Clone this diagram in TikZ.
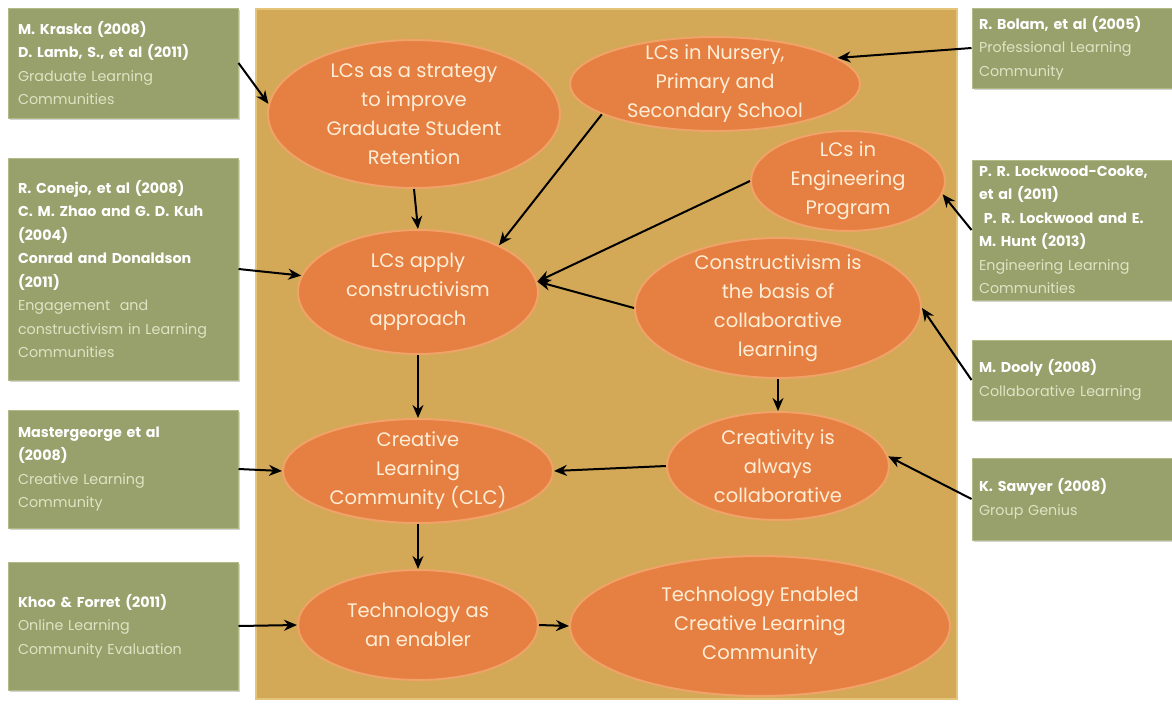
\documentclass[tikz,border=0pt]{standalone}
\usepackage{fontspec}
\setmainfont{Poppins}
\usetikzlibrary{shapes.geometric,arrows.meta,shadows}
\definecolor{panelcol}{RGB}{211,169,88}
\definecolor{panelrim}{RGB}{228,196,120}
\definecolor{boxcol}{RGB}{152,160,108}
\definecolor{boxrim}{RGB}{178,186,135}
\definecolor{ellcol}{RGB}{229,128,66}
\definecolor{ellrim}{RGB}{240,162,104}
\definecolor{elltext}{RGB}{255,238,215}
\definecolor{reftext}{RGB}{222,228,195}
\newcommand{\auth}[1]{{\bfseries\color{white}#1}}
\tikzset{
  ell/.style={ellipse,fill=ellcol,draw=ellrim,line width=2pt,inner sep=-6pt,
    text=elltext,align=center,font=\fontsize{19.5}{29}\selectfont},
  refbox/.style={rectangle,fill=boxcol,draw=boxrim,line width=1pt,
    drop shadow={opacity=0.35,shadow xshift=2pt,shadow yshift=-2pt},
    text=reftext,align=left,inner sep=0pt,font=\fontsize{14.3}{23.5}\selectfont},
  leftref/.style={refbox,minimum width=230pt,text width=210pt},
  rightref/.style={refbox,minimum width=200pt,text width=186pt},
  link/.style={-{Stealth[length=13pt,width=11pt]},line width=2pt,black}
}
\begin{document}
\begin{tikzpicture}[x=1pt,y=-1pt]
  \useasboundingbox (0,0) rectangle (1172,704);
  \fill[panelcol] (255,8) rectangle (958,700);
  \draw[panelrim,line width=2pt] (256,9) rectangle (957,699);
  % references on the left
  \node[leftref,minimum height=110pt] (kraska) at (123,63) {\auth{M. Kraska (2008)}\\\auth{D. Lamb, S., et al (2011)}\\Graduate Learning\\Communities};
  \node[leftref,minimum height=222pt] (conejo) at (123,269) {\auth{R. Conejo, et al (2008)}\\\auth{C. M. Zhao and G. D. Kuh}\\\auth{(2004)}\\\auth{Conrad and Donaldson}\\\auth{(2011)}\\Engagement\ \ and\\constructivism in Learning\\Communities};
  \node[leftref,minimum height=118pt] (master) at (123,469) {\auth{Mastergeorge et al}\\\auth{(2008)}\\Creative Learning\\Community};
  \node[leftref,minimum height=128pt] (khoo) at (123,626) {\auth{Khoo \& Forret (2011)}\\Online Learning\\Community Evaluation};
  % references on the right
  \node[rightref,minimum height=80pt] (bolam) at (1072,48) {\auth{R. Bolam, et al (2005)}\\Professional Learning\\Community};
  \node[rightref,minimum height=140pt] (lockwood) at (1072,230) {\auth{P. R. Lockwood-Cooke,}\\\auth{et al (2011)}\\\auth{\ P. R. Lockwood and E.}\\\auth{M. Hunt (2013)}\\Engineering Learning\\Communities};
  \node[rightref,minimum height=80pt] (dooly) at (1072,380) {\auth{M. Dooly (2008)}\\Collaborative Learning};
  \node[rightref,minimum height=82pt] (sawyer) at (1072,499) {\auth{K. Sawyer (2008)}\\Group Genius};
  % concepts
  \node[ell,minimum width=292pt,minimum height=148pt] (strat) at (414,114) {LCs as a strategy\\to improve\\Graduate Student\\Retention};
  \node[ell,minimum width=290pt,minimum height=94pt] (nursery) at (715,84) {LCs in Nursery,\\Primary and\\Secondary School};
  \node[ell,minimum width=194pt,minimum height=100pt] (eng) at (848,181) {LCs in\\Engineering\\Program};
  \node[ell,minimum width=240pt,minimum height=124pt] (apply) at (418,292) {LCs apply\\constructivism\\approach};
  \node[ell,minimum width=286pt,minimum height=140pt] (cons) at (778,308) {Constructivism is\\the basis of\\collaborative\\learning};
  \node[ell,minimum width=270pt,minimum height=104pt] (clc) at (418,471) {Creative\\Learning\\Community (CLC)};
  \node[ell,minimum width=222pt,minimum height=108pt] (crea) at (778,466) {Creativity is\\always\\collaborative};
  \node[ell,minimum width=240pt,minimum height=110pt] (tech) at (418,625) {Technology as\\an enabler};
  \node[ell,minimum width=380pt,minimum height=140pt] (tecl) at (760,626) {Technology Enabled\\Creative Learning\\Community};
  % links
  \draw[link] (kraska.east) -- (strat.176);
  \draw[link] (bolam.west) -- (nursery.12);
  \draw[link] (strat.south) -- (apply.north);
  \draw[link] (nursery.195) -- (apply.30);
  \draw[link] (eng.west) -- (apply.5);
  \draw[link] (cons.west) -- (apply.5);
  \draw[link] (conejo.east) -- (apply.172);
  \draw[link] (lockwood.west) -- (eng.352);
  \draw[link] (dooly.west) -- (cons.east);
  \draw[link] (cons.south) -- (crea.north);
  \draw[link] (crea.west) -- (clc.east);
  \draw[link] (sawyer.west) -- (crea.5);
  \draw[link] (master.east) -- (clc.west);
  \draw[link] (apply.south) -- (clc.north);
  \draw[link] (clc.south) -- (tech.north);
  \draw[link] (khoo.east) -- (tech.west);
  \draw[link] (tech.east) -- (tecl.west);
\end{tikzpicture}
\end{document}
